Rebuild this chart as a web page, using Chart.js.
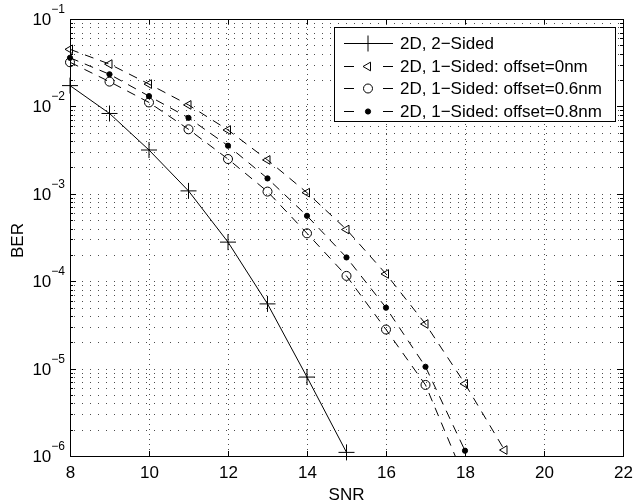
<!DOCTYPE html>
<html>
<head>
<meta charset="utf-8">
<script src="https://cdn.jsdelivr.net/npm/chart.js@4.4.1/dist/chart.umd.min.js"></script>
<style>
  html, body { margin: 0; padding: 0; background: #fff; }
  canvas { display: block; }
</style>
</head>
<body>
<canvas id="berChart" width="634" height="504"></canvas>
<script>
// ── Data ──
const snr = [8, 9, 10, 11, 12, 13, 14, 15, 16, 17, 18, 19];
const ber2Sided = [1.73e-2, 8.3e-3, 3.17e-3, 1.08e-3, 2.8e-4, 5.5e-5, 8.0e-6, 1.1e-6];
const ber0nm    = [4.5e-2, 3.05e-2, 1.80e-2, 1.04e-2, 5.37e-3, 2.44e-3, 1.03e-3, 3.9e-4, 1.21e-4, 3.24e-5, 6.7e-6, 1.17e-6];
const ber06nm   = [3.2e-2, 1.92e-2, 1.11e-2, 5.47e-3, 2.5e-3, 1.06e-3, 3.53e-4, 1.15e-4, 2.8e-5, 6.5e-6, 5.4e-7];
const ber08nm   = [3.6e-2, 2.33e-2, 1.31e-2, 7.4e-3, 3.55e-3, 1.50e-3, 5.6e-4, 1.87e-4, 4.98e-5, 1.05e-5, 1.15e-6];
const seriesLabels = [
    "2D, 2\u2212Sided",
    "2D, 1\u2212Sided: offset=0nm",
    "2D, 1\u2212Sided: offset=0.6nm",
    "2D, 1\u2212Sided: offset=0.8nm"
];
const xTicks = [8, 10, 12, 14, 16, 18, 20, 22];
const yExponents = [-1, -2, -3, -4, -5, -6];

const FONT = "'Liberation Sans', Arial, sans-serif";
const DASH = [9, 7];

const pts = vals => vals.map((v, i) => ({ x: snr[i], y: v }));

const datasets = [
    {
        label: seriesLabels[0], data: pts(ber2Sided),
        borderColor: "#000", borderWidth: 1, borderDash: [],
        pointStyle: "cross", pointRadius: 8, pointBorderWidth: 1,
        pointBorderColor: "#000", pointBackgroundColor: "#000",
        clip: false
    },
    {
        label: seriesLabels[1], data: pts(ber0nm),
        borderColor: "#000", borderWidth: 1, borderDash: DASH,
        pointStyle: "triangle", pointRotation: -90, pointRadius: 5, pointBorderWidth: 1,
        pointBorderColor: "#000", pointBackgroundColor: "rgba(0,0,0,0)",
        clip: false
    },
    {
        label: seriesLabels[2], data: pts(ber06nm),
        borderColor: "#000", borderWidth: 1, borderDash: DASH,
        pointStyle: "circle", pointRadius: 4.5, pointBorderWidth: 1,
        pointBorderColor: "#000", pointBackgroundColor: "rgba(0,0,0,0)",
        clip: { left: 10, top: 10, right: 10, bottom: 0 }
    },
    {
        label: seriesLabels[3], data: pts(ber08nm),
        borderColor: "#000", borderWidth: 1, borderDash: DASH,
        pointStyle: "circle", pointRadius: 2.6, pointBorderWidth: 1,
        pointBorderColor: "#000", pointBackgroundColor: "#000",
        clip: false
    }
];

// ── Matlab-style frame: dotted grid, box, ticks, labels, legend ──
const matlabFrame = {
    id: "matlabFrame",
    beforeDatasetsDraw(chart) {
        const { ctx, chartArea: a, scales: { x, y } } = chart;
        ctx.save();
        ctx.strokeStyle = "rgba(0,0,0,0.7)";
        ctx.lineWidth = 1;
        // horizontal grid (major + minor decades)
        ctx.setLineDash([1, 7]);
        for (let e = -6; e < -1; e++) {
            for (let m = 1; m <= 9; m++) {
                const py = Math.round(y.getPixelForValue(m * Math.pow(10, e))) + 0.5;
                if (py <= a.top + 1 || py >= a.bottom - 1) continue;
                ctx.beginPath();
                ctx.moveTo(a.left + 4, py);
                ctx.lineTo(a.right, py);
                ctx.stroke();
            }
        }
        // vertical grid at major x ticks
        ctx.setLineDash([1, 4]);
        xTicks.slice(1, -1).forEach(v => {
            const px = Math.round(x.getPixelForValue(v)) + 0.5;
            ctx.beginPath();
            ctx.moveTo(px, a.top);
            ctx.lineTo(px, a.bottom);
            ctx.stroke();
        });
        ctx.restore();
    },
    afterDraw(chart) {
        const { ctx, chartArea: a, scales: { x, y } } = chart;
        ctx.save();
        ctx.strokeStyle = "#000";
        ctx.fillStyle = "#000";
        ctx.lineWidth = 1;
        ctx.setLineDash([]);

        // box
        ctx.strokeRect(Math.round(a.left) + 0.5, Math.round(a.top) + 0.5,
            Math.round(a.right - a.left), Math.round(a.bottom - a.top));

        // x ticks + labels
        ctx.font = `17px ${FONT}`;
        ctx.textAlign = "center";
        ctx.textBaseline = "middle";
        xTicks.forEach(v => {
            const px = Math.round(x.getPixelForValue(v)) + 0.5;
            ctx.beginPath();
            ctx.moveTo(px, a.bottom); ctx.lineTo(px, a.bottom - 5);
            ctx.moveTo(px, a.top); ctx.lineTo(px, a.top + 5);
            ctx.stroke();
            ctx.fillText(String(v), px, a.bottom + 17);
        });

        // y ticks (major + minor) + labels
        for (let e = -6; e < -1; e++) {
            for (let m = 2; m <= 9; m++) {
                const py = Math.round(y.getPixelForValue(m * Math.pow(10, e))) + 0.5;
                ctx.beginPath();
                ctx.moveTo(a.left, py); ctx.lineTo(a.left + 3, py);
                ctx.moveTo(a.right, py); ctx.lineTo(a.right - 3, py);
                ctx.stroke();
            }
        }
        yExponents.forEach(e => {
            const py = Math.round(y.getPixelForValue(Math.pow(10, e))) + 0.5;
            ctx.beginPath();
            ctx.moveTo(a.left, py); ctx.lineTo(a.left + 6, py);
            ctx.moveTo(a.right, py); ctx.lineTo(a.right - 6, py);
            ctx.stroke();
            const expStr = "\u2212" + Math.abs(e);
            ctx.font = `12px ${FONT}`;
            const ew = ctx.measureText(expStr).width;
            ctx.textAlign = "right";
            ctx.textBaseline = "middle";
            ctx.fillText(expStr, a.left - 5, py - 10);
            ctx.font = `17px ${FONT}`;
            ctx.fillText("10", a.left - 5 - ew, py + 1);
        });

        // axis titles
        ctx.font = `17px ${FONT}`;
        ctx.textAlign = "center";
        ctx.textBaseline = "middle";
        ctx.fillText("SNR", (a.left + a.right) / 2, 495);
        ctx.save();
        ctx.translate(18, (a.top + a.bottom) / 2 + 3);
        ctx.rotate(-Math.PI / 2);
        ctx.fillText("BER", 0, 0);
        ctx.restore();

        // legend
        const lx = 334, ly = 27, lw = 281, lh = 94;
        ctx.fillStyle = "#fff";
        ctx.fillRect(lx, ly, lw, lh);
        ctx.strokeStyle = "#000";
        ctx.strokeRect(lx + 0.5, ly + 0.5, lw, lh);
        chart.data.datasets.forEach((ds, i) => {
            const ry = Math.round(ly + 16 + i * 22.7) + 0.5;
            const x0 = 344, x1 = 393, xm = 368;
            ctx.strokeStyle = "#000";
            ctx.lineWidth = 1;
            ctx.setLineDash([]);
            ctx.beginPath();
            if (ds.borderDash.length === 0) {
                ctx.moveTo(x0, ry); ctx.lineTo(x1, ry);
            } else {
                ctx.moveTo(x0, ry); ctx.lineTo(x0 + 10, ry);
                ctx.moveTo(x1 - 10, ry); ctx.lineTo(x1, ry);
            }
            ctx.stroke();
            ctx.fillStyle = ds.pointBackgroundColor;
            Chart.helpers.drawPoint(ctx, {
                pointStyle: ds.pointStyle,
                rotation: ds.pointRotation || 0,
                radius: ds.pointRadius,
                borderWidth: 1
            }, xm, ry);
            ctx.fillStyle = "#000";
            ctx.font = `17px ${FONT}`;
            ctx.textAlign = "left";
            ctx.textBaseline = "middle";
            ctx.fillText(ds.label, 400, ry + 1);
        });
        ctx.restore();
    }
};

new Chart(document.getElementById("berChart"), {
    type: "line",
    data: { datasets },
    options: {
        responsive: false,
        animation: false,
        devicePixelRatio: 1,
        layout: { padding: { left: 70, top: 19, right: 11, bottom: 48 } },
        elements: { line: { tension: 0, fill: false } },
        scales: {
            x: { type: "linear", min: 8, max: 22, display: false },
            y: { type: "logarithmic", min: 1e-6, max: 1e-1, display: false }
        },
        plugins: {
            legend: { display: false },
            tooltip: { enabled: false }
        }
    },
    plugins: [matlabFrame]
});
</script>
</body>
</html>
